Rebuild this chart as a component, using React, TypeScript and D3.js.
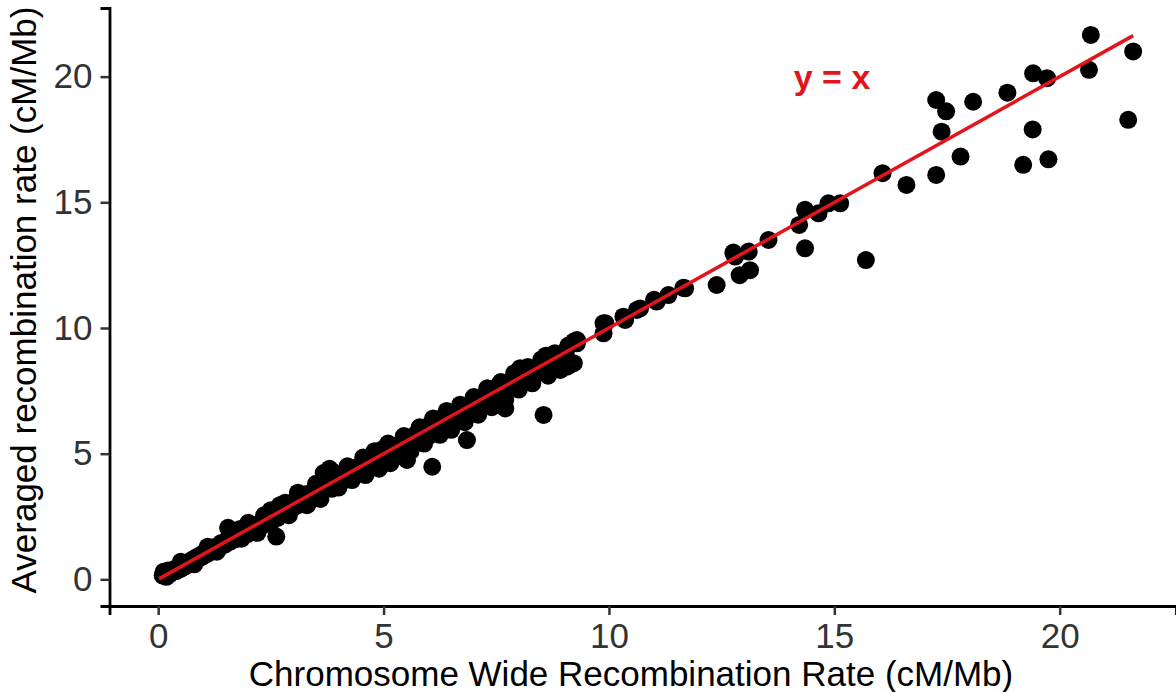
import React, { useEffect, useRef } from 'react';
import * as d3 from 'd3';

// chromosome-wide rate (x) vs averaged rate (y), cM/Mb
const denseX = [0.10,0.12,0.18,0.22,0.25,0.30,0.35,0.40,0.45,0.50,0.55,0.60,0.65,0.70,0.75,0.80,0.85,0.90,0.95,1.00,1.05,1.10,1.15,1.22,1.28,1.35,1.40,1.48,1.55,1.55,1.60,1.65,1.72,1.78,1.82,1.85,1.92,1.98,2.05,2.10,2.18,2.25,2.30,2.35,2.40,2.45,2.52,2.58,2.62,2.65,2.70,2.72,2.78,2.82,2.88,2.95,3.00,3.05,3.10,3.15,3.20,3.25,3.30,3.35,3.42,3.48,3.55,3.60,3.67,3.68,3.72,3.78,3.80,3.85,3.90,3.95,4.02,4.08,4.15,4.22,4.30,4.38,4.45,4.50,4.58,4.65,4.72,4.80,4.88,4.95,5.00,5.05,5.10,5.15,5.20,5.28,5.35,5.40,5.48,5.52,5.55,5.62,5.70,5.75,5.82,5.88,5.95,6.00,6.05,6.08,6.12,6.18,6.22,6.28,6.35,6.40,6.45,6.50,6.55,6.62,6.68,6.72,6.78,6.85,6.88,6.95,7.02,7.08,7.15,7.22,7.30,7.35,7.42,7.50,7.55,7.62,7.70,7.68,7.75,7.82,7.90,7.95,8.03,8.05,8.12,8.20,8.30,8.40,8.48,8.55,8.60,8.63,8.70,8.78,8.85,8.92,9.00,9.05,9.07,9.15,9.22,9.22,9.29];
const denseY = [0.15,0.30,0.10,0.35,0.20,0.28,0.40,0.33,0.50,0.42,0.58,0.52,0.66,0.62,0.78,0.70,0.88,0.82,0.98,0.92,1.10,1.02,1.18,1.12,1.30,1.25,1.45,1.38,1.62,2.05,1.50,1.75,1.60,1.95,2.00,1.62,1.85,1.80,2.05,1.95,2.15,2.05,2.30,2.55,2.20,2.40,2.30,2.60,1.70,2.45,2.95,2.60,2.75,3.05,2.70,2.95,2.85,3.15,2.95,3.30,3.05,3.20,3.40,3.10,3.35,3.25,3.55,3.40,4.23,3.65,4.05,3.70,4.40,3.60,3.90,3.80,4.10,3.90,4.25,4.05,4.35,4.20,4.50,4.30,4.60,4.45,4.75,4.55,4.90,4.70,5.20,4.95,5.25,4.62,5.10,5.30,5.05,5.45,5.25,4.75,5.55,5.40,5.75,5.50,5.85,5.60,5.95,5.70,6.20,4.48,5.90,6.30,6.05,6.40,6.15,6.50,6.25,6.55,6.30,6.65,6.40,6.70,6.50,5.54,6.80,6.60,7.05,6.85,7.20,7.00,7.40,7.10,7.55,7.25,7.70,7.45,6.80,7.80,7.60,7.90,7.70,8.05,8.40,7.90,8.20,8.05,8.35,8.20,8.50,6.54,8.90,8.40,8.75,8.50,8.85,8.33,8.70,9.10,8.46,8.55,8.60,9.46,9.39];
const spreadX = [0.50,0.80,1.10,1.30,2.00,2.20,2.50,2.90,3.10,3.30,3.50,3.60,3.90,4.00,4.20,4.30,4.55,4.60,4.80,4.90,5.10,5.25,5.45,5.60,5.80,5.90,6.10,6.25,6.40,6.50,6.70,6.80,7.00,7.10,7.30,7.40,7.60,7.70,7.90,8.00,8.20,8.30,8.50,8.65,8.80,8.95,9.10];
const spreadY = [0.70,0.60,1.30,1.10,2.25,1.85,2.75,2.55,3.45,2.95,3.80,3.20,4.25,3.65,4.50,3.95,4.85,4.15,5.10,4.40,5.40,4.85,5.70,5.10,6.05,5.40,6.40,5.75,6.70,5.95,6.95,6.25,7.25,6.55,7.60,6.85,7.85,7.15,8.20,7.55,8.45,7.80,8.75,8.10,9.00,8.45,9.30];
const upperX = [9.29,9.88,9.88,9.92,10.32,10.36,10.62,10.69,11.00,11.06,11.32,11.65,11.69,12.39,12.76,12.80,12.90,13.10,13.13,13.54,14.22,14.35,14.35,14.65,14.87,15.13,15.70,16.07,16.60,17.26,17.48,17.38,17.26,17.80,18.08,18.84,19.41,19.72,19.40,19.19,19.75,20.69,20.65,21.63,21.52];
const upperY = [9.52,10.19,9.79,10.19,10.45,10.32,10.72,10.78,11.12,11.05,11.31,11.60,11.58,11.71,13.00,12.84,12.10,13.04,12.30,13.50,14.10,14.70,13.17,14.56,14.96,14.96,12.70,16.16,15.69,19.07,18.62,17.81,16.09,16.82,19.00,19.36,20.13,19.94,17.90,16.49,16.71,21.66,20.27,21.00,18.28];

const xTicks = [0, 5, 10, 15, 20];
const yTicks = [0, 5, 10, 15, 20];

const xTitle = 'Chromosome Wide Recombination Rate (cM/Mb)';
const yTitle = 'Averaged recombination rate (cM/Mb)';
const lineLabel = 'y = x';

function App() {
  const ref = useRef<SVGSVGElement>(null);

  useEffect(() => {
    const width = 1176;
    const height = 692;
    const font = '"Liberation Sans", Arial, sans-serif';
    const red = '#e3141c';

    const pair = (xs: number[], ys: number[]) => xs.map((v, i) => [v, ys[i]]);
    const points = pair(denseX, denseY)
      .concat(pair(spreadX, spreadY))
      .concat(pair(upperX, upperY));

    const x = d3.scaleLinear().domain([-1.08, 22.58]).range([109.5, 1176]);
    const y = d3.scaleLinear().domain([-1.06, 22.73]).range([606, 8]);

    const svg = d3.select(ref.current);
    svg.selectAll('*').remove();
    svg.attr('width', width).attr('height', height).style('font-family', font);

    svg.append('rect').attr('width', width).attr('height', height).attr('fill', 'white');

    // points
    svg.append('g')
      .selectAll('circle')
      .data(points)
      .join('circle')
      .attr('cx', d => x(d[0]))
      .attr('cy', d => y(d[1]))
      .attr('r', 9)
      .attr('fill', 'black');

    // identity line over the data range
    const [lo, hi] = d3.extent(points, d => d[0]) as [number, number];
    svg.append('line')
      .attr('x1', x(lo - 0.08)).attr('y1', y(lo - 0.08))
      .attr('x2', x(hi)).attr('y2', y(hi))
      .attr('stroke', red)
      .attr('stroke-width', 3.5);

    svg.append('text')
      .attr('x', x(14.1))
      .attr('y', y(19.5))
      .attr('fill', red)
      .attr('font-weight', 'bold')
      .attr('font-size', 34)
      .text(lineLabel);

    // axes
    const xAxis = svg.append('g')
      .attr('transform', `translate(0,${y.range()[0]})`)
      .call(d3.axisBottom(x).tickValues(xTicks).tickSize(9).tickPadding(8));
    const yAxis = svg.append('g')
      .attr('transform', `translate(${x.range()[0]},0)`)
      .call(d3.axisLeft(y).tickValues(yTicks).tickSize(9).tickPadding(8));

    [xAxis, yAxis].forEach(a => {
      a.select('.domain').attr('stroke', 'black').attr('stroke-width', 2.8);
      a.selectAll('.tick line').attr('stroke', '#333').attr('stroke-width', 2.5);
      a.selectAll('.tick text')
        .attr('fill', '#333')
        .style('font-family', font)
        .style('font-size', '35px');
    });

    svg.append('text')
      .attr('x', 631)
      .attr('y', 686)
      .attr('text-anchor', 'middle')
      .attr('font-size', 35)
      .attr('fill', 'black')
      .text(xTitle);

    svg.append('text')
      .attr('transform', `translate(36,300) rotate(-90)`)
      .attr('text-anchor', 'middle')
      .attr('font-size', 35)
      .attr('fill', 'black')
      .text(yTitle);
  }, []);

  return (
    <div style={{ position: 'fixed', left: 0, top: 0 }}>
      <svg ref={ref}></svg>
    </div>
  );
}

export default App;
